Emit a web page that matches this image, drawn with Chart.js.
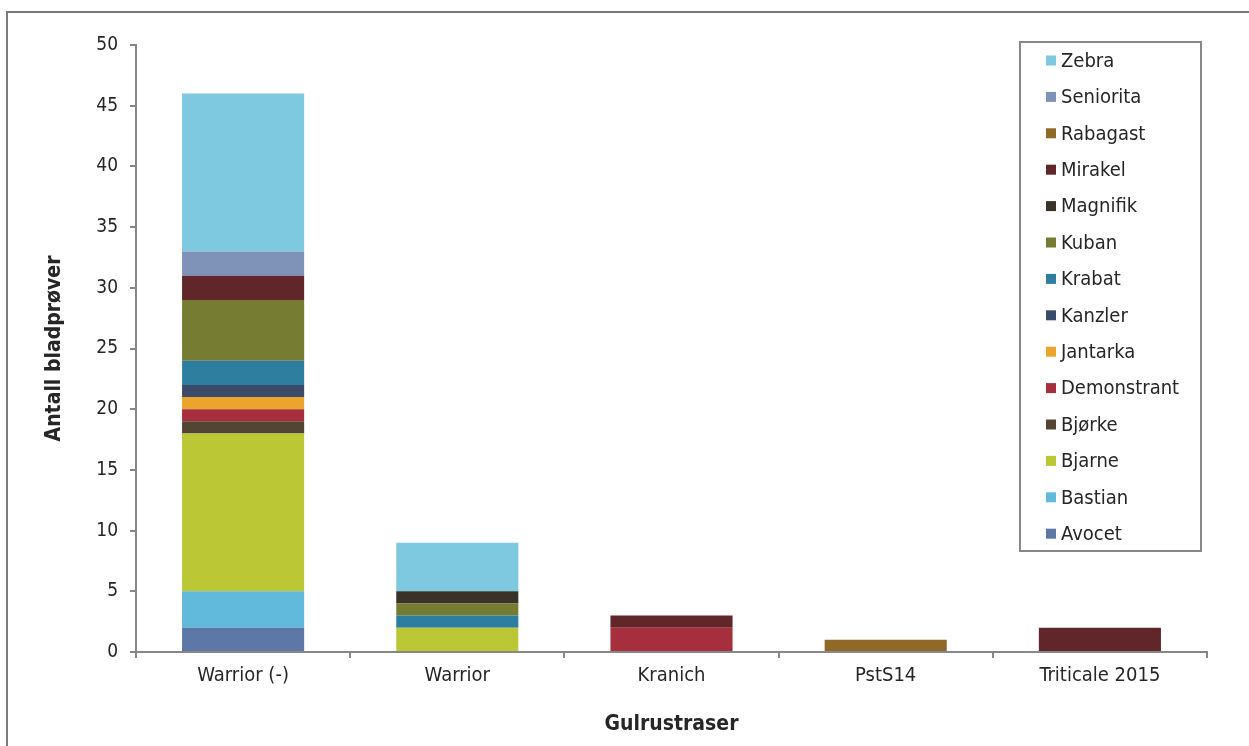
<!DOCTYPE html>
<html>
<head>
<meta charset="utf-8">
<script src="https://cdn.jsdelivr.net/npm/chart.js@4.4.0/dist/chart.umd.min.js"></script>
<style>
  body { margin: 0; background: #fff; }
  #wrap { position: relative; width: 1249px; height: 746px; overflow: hidden; }
  #frame { position: absolute; left: 6px; top: 11px; width: 1300px; height: 800px; border-left: 2px solid #7a7a7a; border-top: 2px solid #7a7a7a; }
  canvas { position: absolute; left: 0; top: 0; }
</style>
</head>
<body>
<div id="wrap">
  <div id="frame"></div>
  <canvas id="myChart" width="1249" height="746"></canvas>
</div>
<script>
// categories on the x axis
var categories = ['Warrior (-)', 'Warrior', 'Kranich', 'PstS14', 'Triticale 2015'];
var yTicks = [0, 5, 10, 15, 20, 25, 30, 35, 40, 45, 50];

// number of samples per variety, one value per category
var avocet      = [2, 0, 0, 0, 0];
var bastian     = [3, 0, 0, 0, 0];
var bjarne      = [13, 2, 0, 0, 0];
var bjorke      = [1, 0, 0, 0, 0];
var demonstrant = [1, 0, 2, 0, 0];
var jantarka    = [1, 0, 0, 0, 0];
var kanzler     = [1, 0, 0, 0, 0];
var krabat      = [2, 1, 0, 0, 0];
var kuban       = [5, 1, 0, 0, 0];
var magnifik    = [0, 1, 0, 0, 0];
var mirakel     = [2, 0, 1, 0, 2];
var rabagast    = [0, 0, 0, 1, 0];
var seniorita   = [2, 0, 0, 0, 0];
var zebra       = [13, 4, 0, 0, 0];

var seriesNames = ['Avocet', 'Bastian', 'Bjarne', 'Bjørke', 'Demonstrant', 'Jantarka', 'Kanzler',
                   'Krabat', 'Kuban', 'Magnifik', 'Mirakel', 'Rabagast', 'Seniorita', 'Zebra'];
var seriesValues = [avocet, bastian, bjarne, bjorke, demonstrant, jantarka, kanzler,
                    krabat, kuban, magnifik, mirakel, rabagast, seniorita, zebra];
var seriesColors = ['#5d77a7', '#61badb', '#bbc735', '#534533', '#a62e3d', '#eba52d', '#3a4a68',
                    '#2e7ea0', '#767d33', '#3a3127', '#60262a', '#8f6a26', '#7f92b8', '#7ec8e0'];

var FONT = '"DejaVu Sans Condensed", "DejaVu Sans", sans-serif';
var AXIS = '#878787';

var datasets = seriesNames.map(function (name, i) {
    return {
        label: name,
        data: seriesValues[i],
        backgroundColor: seriesColors[i],
        borderWidth: 0,
        categoryPercentage: 1,
        barPercentage: 0.57
    };
});

// legend box drawn inside the plot, top item = last series
var boxLegend = {
    id: 'boxLegend',
    afterDraw: function (chart) {
        var ctx = chart.ctx;
        var x0 = 1020, y0 = 42, w = 181, h = 509;
        ctx.save();
        ctx.fillStyle = '#fff';
        ctx.fillRect(x0, y0, w, h);
        ctx.strokeStyle = '#888';
        ctx.lineWidth = 2;
        ctx.strokeRect(x0, y0, w, h);
        ctx.font = '20px ' + FONT;
        ctx.textBaseline = 'middle';
        var ds = chart.data.datasets.slice().reverse();
        ds.forEach(function (d, i) {
            var cy = 60.5 + i * 36.4;
            ctx.fillStyle = d.backgroundColor;
            ctx.fillRect(1046, cy - 5, 10, 10);
            ctx.fillStyle = '#262626';
            ctx.fillText(d.label, 1061, cy + 1);
        });
        ctx.restore();
    }
};

var ctx = document.getElementById('myChart').getContext('2d');
var myChart = new Chart(ctx, {
    type: 'bar',
    data: { labels: categories, datasets: datasets },
    plugins: [boxLegend],
    options: {
        responsive: false,
        animation: false,
        layout: { padding: { top: 45, right: 42, left: 0, bottom: 0 } },
        plugins: {
            legend: { display: false },
            tooltip: { enabled: false }
        },
        scales: {
            x: {
                stacked: true,
                afterFit: function (s) { s.height = 94; },
                border: { color: AXIS, width: 2 },
                grid: { offset: true, drawOnChartArea: false, color: AXIS, lineWidth: 2, tickLength: 6 },
                ticks: { color: '#262626', font: { family: FONT, size: 20 }, padding: 6, maxRotation: 0 },
                title: { display: true, text: 'Gulrustraser', color: '#262626',
                         font: { family: FONT, size: 21, weight: 'bold' }, padding: { top: 0, bottom: 9 } }
            },
            y: {
                stacked: true,
                min: 0, max: 50,
                afterFit: function (s) { s.width = 136; },
                afterBuildTicks: function (s) { s.ticks = yTicks.map(function (v) { return { value: v }; }); },
                border: { color: AXIS, width: 2 },
                grid: { drawOnChartArea: false, color: AXIS, lineWidth: 2, tickLength: 6 },
                ticks: { color: '#262626', font: { family: FONT, size: 19 }, padding: 12 },
                title: { display: true, text: 'Antall bladprøver', color: '#262626',
                         font: { family: FONT, size: 21, weight: 'bold' }, padding: { top: 42, bottom: 0 } }
            }
        }
    }
});
</script>
</body>
</html>
